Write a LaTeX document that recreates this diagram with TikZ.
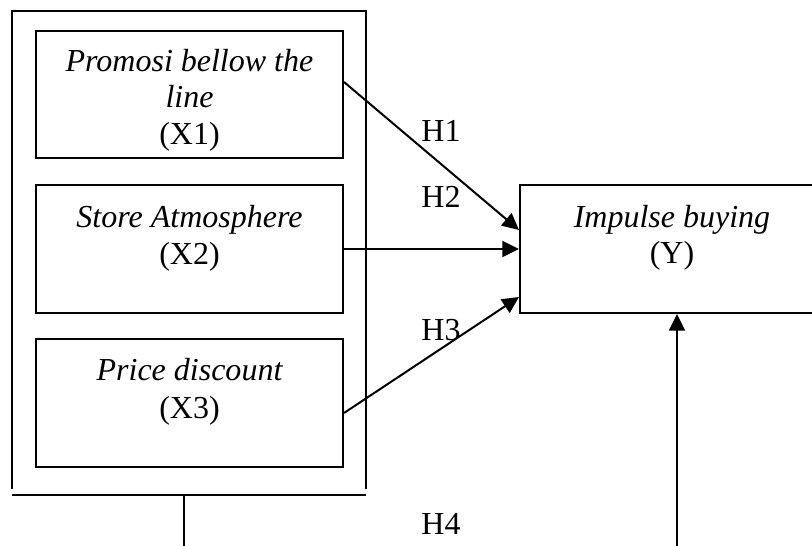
\documentclass[tikz,border=0pt]{standalone}
\usepackage{fontspec}
\setmainfont{Liberation Serif}
\usetikzlibrary{arrows.meta,calc}
\begin{document}
\begin{tikzpicture}[x=0.75pt,y=-0.75pt,
  line width=1.5pt,
  box/.style={draw, rectangle, inner sep=0pt, minimum width=230.25pt, minimum height=96pt},
  txt/.style={anchor=base, inner sep=0pt, font=\fontsize{24}{28}\selectfont},
  arr/.style={-{Triangle[length=12.5pt,width=12pt]}},
]
\useasboundingbox (0,0) rectangle (812,545);
\clip (0,0) rectangle (812,545);

% independent variables
\node[box, minimum height=95.25pt] (x1) at (189.5,94.5) {};
\node[box] (x2) at (189.5,249) {};
\node[box] (x3) at (189.5,403) {};
% dependent variable
\node[box, minimum width=228pt] (y) at (672,249) {};

% box texts
\node[txt] (x1a) at (189.5,72)  {\itshape Promosi bellow the};
\node[txt] (x1b) at (189.5,108) {\itshape line};
\node[txt] (x1c) at (189.5,145) {(X1)};
\node[txt] (x2a) at (189.5,227) {\itshape Store Atmosphere};
\node[txt] (x2b) at (189.5,264) {(X2)};
\node[txt] (x3a) at (189.5,380) {\itshape Price discount};
\node[txt] (x3b) at (189.5,418) {(X3)};
\node[txt] (ya)  at (672,227)   {\itshape Impulse buying};
\node[txt] (yb)  at (672,263)   {(Y)};

% frame around the three variables
\coordinate (gbl) at (12,489);
\coordinate (gtl) at (12,11);
\coordinate (gtr) at (366,11);
\coordinate (gbr) at (366,489);
\draw (gbl) -- (gtl) -- (gtr) -- (gbr);
\coordinate (bl) at (12,495);
\coordinate (br) at (366,495);
\draw (bl) -- (br);

% simultaneous path (H4)
\coordinate (jtop) at (184,495);
\coordinate (jbot) at (184,560);
\draw (jtop) -- (jbot);
\coordinate (ybot) at (677,560);
\draw[arr] (ybot) -- (ybot |- y.south);

% partial paths
\draw[arr] ($(x1.east)+(0,-12.5)$) -- ($(y.west)+(0,-19)$);
\draw[arr] (x2.east) -- (y.west);
\draw[arr] ($(x3.east)+(0,10)$) -- ($(y.west)+(0,48)$);

% hypothesis labels
\node[txt] (h1) at (441,142) {H1};
\node[txt] (h2) at (441,207) {H2};
\node[txt] (h3) at (441,340) {H3};
\node[txt] (h4) at (441,534) {H4};
\end{tikzpicture}
\end{document}
